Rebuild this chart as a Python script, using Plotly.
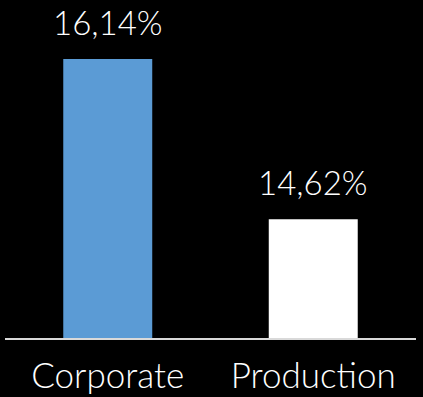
import plotly.graph_objects as go

categories = ["Corporate", "Production"]
values = [16.14, 14.62]
labels = ["16,14%", "14,62%"]
colors = ["#5B9BD5", "#FFFFFF"]

FONT = "Lato"

fig = go.Figure()
fig.add_trace(go.Bar(
    x=categories, y=values, marker=dict(color=colors, line=dict(width=0)),
    width=0.433, hoverinfo="skip",
))
for c, v, t in zip(categories, values, labels):
    fig.add_annotation(x=c, y=v, text=t, showarrow=False, yanchor="bottom",
                       yshift=15, font=dict(family=FONT, size=33, color="white", weight=300))

fig.update_layout(
    width=423, height=397,
    margin=dict(l=5, r=7, t=0, b=59),
    paper_bgcolor="black", plot_bgcolor="black",
    showlegend=False,
    xaxis=dict(showline=True, linecolor="#d9d9d9", linewidth=1.5, showgrid=False,
               ticks="", tickfont=dict(family=FONT, size=35, color="white", weight=300),
               ticklabelstandoff=6, automargin=False),
    yaxis=dict(range=[13.494, 16.70], visible=False, showgrid=False, automargin=False),
)
fig.write_html("out.html")
